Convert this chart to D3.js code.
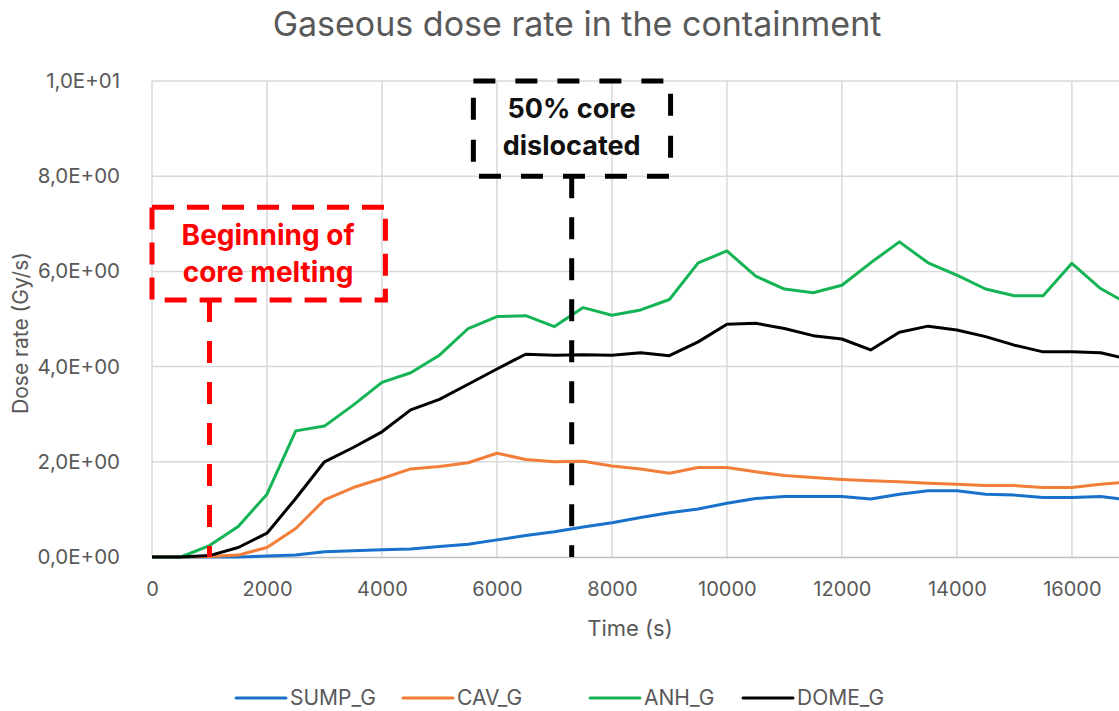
<!DOCTYPE html>
<html>
<head>
<meta charset="utf-8">
<script src="https://cdn.jsdelivr.net/npm/d3@7"></script>
<style>
  body { margin: 0; background: #fff; }
  text { font-family: Inter, "Open Sans", sans-serif; }
</style>
</head>
<body>
<svg id="chart"></svg>
<script>
const time = [0, 500, 1000, 1500, 2000, 2500, 3000, 3500, 4000, 4500, 5000, 5500, 6000, 6500,
  7000, 7500, 8000, 8500, 9000, 9500, 10000, 10500, 11000, 11500, 12000, 12500, 13000,
  13500, 14000, 14500, 15000, 15500, 16000, 16500, 17000];

const sumpG = [0, 0, 0, 0, 0.02, 0.04, 0.11, 0.13, 0.15, 0.17, 0.22, 0.27, 0.36, 0.45,
  0.53, 0.63, 0.72, 0.83, 0.93, 1.01, 1.13, 1.23, 1.27, 1.27, 1.27, 1.22, 1.32,
  1.39, 1.39, 1.32, 1.3, 1.25, 1.25, 1.27, 1.2];

const cavG = [0, 0, 0.01, 0.04, 0.2, 0.6, 1.2, 1.46, 1.65, 1.85, 1.9, 1.98, 2.18, 2.05,
  2.0, 2.01, 1.91, 1.85, 1.76, 1.88, 1.88, 1.79, 1.71, 1.67, 1.63, 1.6, 1.58,
  1.55, 1.53, 1.5, 1.5, 1.46, 1.46, 1.53, 1.58];

const anhG = [0, 0, 0.24, 0.64, 1.32, 2.65, 2.75, 3.19, 3.67, 3.87, 4.24, 4.8, 5.05, 5.07,
  4.84, 5.24, 5.08, 5.19, 5.41, 6.18, 6.43, 5.9, 5.63, 5.55, 5.71, 6.18, 6.62,
  6.18, 5.92, 5.63, 5.49, 5.49, 6.17, 5.64, 5.3];

const domeG = [0, 0, 0.03, 0.2, 0.5, 1.23, 2.0, 2.3, 2.63, 3.09, 3.31, 3.63, 3.95, 4.26,
  4.24, 4.25, 4.24, 4.29, 4.23, 4.52, 4.89, 4.91, 4.8, 4.65, 4.58, 4.35, 4.72,
  4.85, 4.77, 4.63, 4.45, 4.31, 4.31, 4.29, 4.15];

const seriesNames = ["SUMP_G", "CAV_G", "ANH_G", "DOME_G"];
const seriesColors = ["#1872cc", "#f27e3a", "#14b455", "#000000"];
const xTicks = [0, 2000, 4000, 6000, 8000, 10000, 12000, 14000, 16000];
const yTicks = [0, 2, 4, 6, 8, 10];
const yTickLabels = ["0,0E+00", "2,0E+00", "4,0E+00", "6,0E+00", "8,0E+00", "1,0E+01"];

// annotations (time in s, dose rate in Gy/s)
const meltStart = 1000;
const meltLabel = ["Beginning of", "core melting"];
const dislocTime = 7300;
const dislocLabel = ["50% core", "dislocated"];

const W = 1119, H = 711;
const margin = { left: 152, right: 0, top: 81, bottom: 154 };

const svg = d3.select("#chart").attr("width", W).attr("height", H);

const x = d3.scaleLinear().domain([0, 16820]).range([margin.left, W - margin.right]);
const y = d3.scaleLinear().domain([0, 10]).range([H - margin.bottom, margin.top]);

// title
svg.append("text")
  .attr("x", 577).attr("y", 36)
  .attr("text-anchor", "middle")
  .attr("fill", "#595959")
  .style("font-size", "34px")
  .text("Gaseous dose rate in the containment");

// gridlines
svg.append("g")
  .selectAll("line")
  .data(yTicks.slice(1))
  .join("line")
  .attr("x1", margin.left).attr("x2", W)
  .attr("y1", d => y(d)).attr("y2", d => y(d))
  .attr("stroke", "#d9d9d9").attr("stroke-width", 1.5);

svg.append("g")
  .selectAll("line")
  .data(xTicks)
  .join("line")
  .attr("x1", d => x(d)).attr("x2", d => x(d))
  .attr("y1", y(10)).attr("y2", y(0))
  .attr("stroke", "#d9d9d9").attr("stroke-width", 1.5);

// x axis
const xAxis = svg.append("g")
  .attr("transform", `translate(0,${y(0)})`)
  .call(d3.axisBottom(x).tickValues(xTicks).tickSize(0).tickPadding(25).tickFormat(d3.format("d")));
xAxis.select(".domain").attr("stroke", "#bfbfbf").attr("stroke-width", 1.5);
xAxis.selectAll("text").attr("fill", "#595959").style("font-size", "20px")
  .style("font-family", "Inter, sans-serif");

// y axis
const yAxis = svg.append("g")
  .attr("transform", `translate(${margin.left},0)`)
  .call(d3.axisLeft(y).tickValues(yTicks).tickSize(0).tickPadding(32)
    .tickFormat((d, i) => yTickLabels[i]));
yAxis.select(".domain").remove();
yAxis.selectAll("text").attr("fill", "#595959").style("font-size", "20.5px")
  .style("font-family", "Inter, sans-serif");

// axis titles
svg.append("text")
  .attr("x", 630).attr("y", 636)
  .attr("text-anchor", "middle")
  .attr("fill", "#595959")
  .style("font-size", "22px")
  .text("Time (s)");

svg.append("text")
  .attr("transform", `translate(28,${(y(0) + y(10)) / 2 + 14}) rotate(-90)`)
  .attr("text-anchor", "middle")
  .attr("fill", "#595959")
  .style("font-size", "21px")
  .text("Dose rate (Gy/s)");

// clip
svg.append("clipPath").attr("id", "plotClip")
  .append("rect")
  .attr("x", margin.left).attr("y", 0)
  .attr("width", W - margin.left).attr("height", H);

const line = d3.line()
  .x((d, i) => x(time[i]))
  .y(d => y(d));

const allSeries = [sumpG, cavG, anhG, domeG];
svg.append("g")
  .attr("clip-path", "url(#plotClip)")
  .selectAll("path")
  .data(allSeries)
  .join("path")
  .attr("fill", "none")
  .attr("stroke", (d, i) => seriesColors[i])
  .attr("stroke-width", 3)
  .attr("stroke-linejoin", "round")
  .attr("stroke-linecap", "round")
  .attr("d", line);

// annotation: beginning of core melting
const red = "#ff0000";
svg.append("rect")
  .attr("x", x(0)).attr("y", y(7.35))
  .attr("width", x(4060) - x(0)).attr("height", y(5.4) - y(7.35))
  .attr("fill", "none").attr("stroke", red)
  .attr("stroke-width", 5).attr("stroke-dasharray", "22,13");
svg.append("line")
  .attr("x1", x(meltStart)).attr("x2", x(meltStart))
  .attr("y1", y(5.4)).attr("y2", y(0))
  .attr("stroke", red).attr("stroke-width", 5).attr("stroke-dasharray", "22,19");
svg.append("text")
  .attr("x", x(2020)).attr("y", 245)
  .attr("text-anchor", "middle")
  .attr("fill", red)
  .style("font-size", "28px").style("font-weight", "bold")
  .selectAll("tspan")
  .data(meltLabel)
  .join("tspan")
  .attr("x", x(2020))
  .attr("dy", (d, i) => i === 0 ? 0 : 37)
  .text(d => d);

// annotation: 50% core dislocated
svg.append("rect")
  .attr("x", x(5590)).attr("y", y(10))
  .attr("width", x(9020) - x(5590)).attr("height", y(8.0) - y(10))
  .attr("fill", "none").attr("stroke", "#000")
  .attr("stroke-width", 5).attr("stroke-dasharray", "22,20");
svg.append("line")
  .attr("x1", x(dislocTime)).attr("x2", x(dislocTime))
  .attr("y1", y(8.0)).attr("y2", y(0))
  .attr("stroke", "#000").attr("stroke-width", 5).attr("stroke-dasharray", "22,19");
svg.append("text")
  .attr("x", x(dislocTime)).attr("y", 118)
  .attr("text-anchor", "middle")
  .attr("fill", "#111")
  .style("font-size", "27px").style("font-weight", "bold")
  .selectAll("tspan")
  .data(dislocLabel)
  .join("tspan")
  .attr("x", x(dislocTime))
  .attr("dy", (d, i) => i === 0 ? 0 : 37)
  .text(d => d);

// legend
const legendX = [236, 403, 590, 743];
const legend = svg.append("g").attr("transform", "translate(0,698)");
const items = legend.selectAll("g")
  .data(seriesNames)
  .join("g")
  .attr("transform", (d, i) => `translate(${legendX[i]},0)`);
items.append("line")
  .attr("x1", 0).attr("x2", 50)
  .attr("stroke", (d, i) => seriesColors[i])
  .attr("stroke-width", 3).attr("stroke-linecap", "round");
items.append("text")
  .attr("x", 54).attr("dy", "0.35em")
  .attr("fill", "#595959")
  .style("font-size", "21px")
  .text(d => d);
</script>
</body>
</html>
